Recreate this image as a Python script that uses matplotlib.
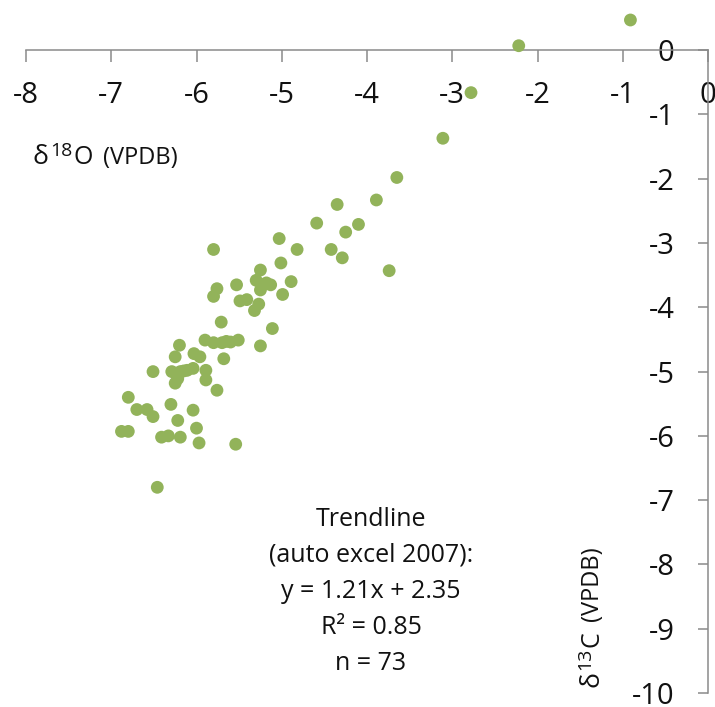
import matplotlib
matplotlib.use("Agg")
import matplotlib.pyplot as plt
from matplotlib.transforms import IdentityTransform

# d18O / d13C (VPDB)
d18o = [-0.91, -2.22, -2.78, -3.11, -3.65, -3.89, -4.35, -4.59, -4.10, -4.25,
        -5.03, -5.80, -4.82, -4.42, -4.29, -3.74, -5.01, -5.25, -4.89, -5.53,
        -5.30, -5.22, -5.13, -5.25, -4.99, -5.76, -5.80, -5.49, -5.41, -5.27,
        -5.32, -5.71, -5.11, -5.90, -5.80, -5.70, -5.60, -5.51, -5.25, -6.20,
        -6.25, -6.03, -5.96, -5.68, -6.51, -6.29, -6.19, -6.11, -6.04, -6.25,
        -6.22, -5.89, -5.89, -5.76, -6.80, -6.70, -6.58, -6.51, -6.30, -6.04,
        -6.22, -6.00, -6.88, -6.80, -6.41, -6.33, -6.19, -5.97, -5.54, -6.46,
        -5.65, -6.15, -5.18]
d13c = [0.47, 0.07, -0.66, -1.37, -1.98, -2.33, -2.40, -2.69, -2.71, -2.83,
        -2.93, -3.10, -3.10, -3.10, -3.23, -3.43, -3.31, -3.42, -3.60, -3.65,
        -3.58, -3.65, -3.65, -3.73, -3.80, -3.71, -3.83, -3.90, -3.88, -3.95,
        -4.05, -4.23, -4.33, -4.51, -4.55, -4.55, -4.54, -4.51, -4.60, -4.59,
        -4.77, -4.72, -4.77, -4.80, -5.00, -5.00, -5.00, -4.98, -4.95, -5.18,
        -5.11, -4.98, -5.13, -5.29, -5.40, -5.59, -5.59, -5.70, -5.51, -5.60,
        -5.76, -5.88, -5.93, -5.93, -6.02, -6.00, -6.02, -6.11, -6.13, -6.80,
        -4.53, -4.99, -3.62]

x_ticks = list(range(-8, 1))
y_ticks = list(range(-10, 1))

trend_lines = ["Trendline", "(auto excel 2007):", "y = 1.21x + 2.35",
               "R\u00b2 = 0.85", "n = 73"]

plt.rcParams['font.family'] = ['Open Sans', 'DejaVu Sans']
plt.rcParams['axes.unicode_minus'] = False

W, H = 715, 707
fig = plt.figure(figsize=(W / 100, H / 100), dpi=100)
ax = fig.add_axes([26 / W, 14 / H, 682 / W, 691 / H])

ax.scatter(d18o, d13c, s=85, color='#92b35a', edgecolors='none', zorder=3,
           clip_on=False)

ax.set_xlim(-8, 0)
ax.set_ylim(-10, 0.75)

# axes crossing at the origin, Excel style
for side in ['top', 'right']:
    ax.spines[side].set_visible(False)
ax.spines['bottom'].set_position(('data', 0))
ax.spines['left'].set_position(('data', 0))
ax.spines['bottom'].set_bounds(-8, 0)
ax.spines['left'].set_bounds(-10, 0)
for side in ['bottom', 'left']:
    ax.spines[side].set_color('#8a8a8a')
    ax.spines[side].set_linewidth(1.1)

ax.set_xticks(x_ticks)
ax.set_yticks(y_ticks)
ax.set_xticklabels([str(v) for v in x_ticks])
ax.set_yticklabels([str(v) for v in y_ticks])
ax.tick_params(axis='x', direction='out', length=8.5, width=1.1, color='#8a8a8a',
               pad=14, labelsize=21, labelcolor='#111111')
ax.tick_params(axis='y', direction='out', length=7, width=1.1, color='#8a8a8a',
               pad=17, labelsize=21, labelcolor='#111111')

# axis titles, put together piece by piece (pixel positions, origin bottom-left)
px = IdentityTransform()
renderer = fig.canvas.get_renderer()
# (text, fontsize, raise in px, gap after in px)
title_pieces = [('\u03b4', 19, 0, 1), ('{sup}', 14, 8, 1), ('{main}', 18, 0, 10),
                ('(VPDB)', 17, 0, 0)]


def axis_title(sup, main, x0, y0, vertical=False):
    pos = y0 if vertical else x0
    for s, size, rise, gap in title_pieces:
        s = s.format(sup=sup, main=main)
        if vertical:
            t = fig.text(x0 - rise, pos, s, fontsize=size, color='#111111',
                         transform=px, ha='left', va='baseline',
                         rotation=90, rotation_mode='anchor')
            pos += t.get_window_extent(renderer).height + gap
        else:
            t = fig.text(pos, y0 + rise, s, fontsize=size, color='#111111',
                         transform=px, ha='left', va='baseline')
            pos += t.get_window_extent(renderer).width + gap


axis_title('18', 'O', 33, H - 164)
axis_title('13', 'C', 598, H - 687, vertical=True)

for i, line in enumerate(trend_lines):
    fig.text(371, H - 526 - 36 * i, line, fontsize=18, color='#111111',
             transform=px, ha='center', va='baseline')

fig.savefig('out.png', dpi=100, facecolor='white')
